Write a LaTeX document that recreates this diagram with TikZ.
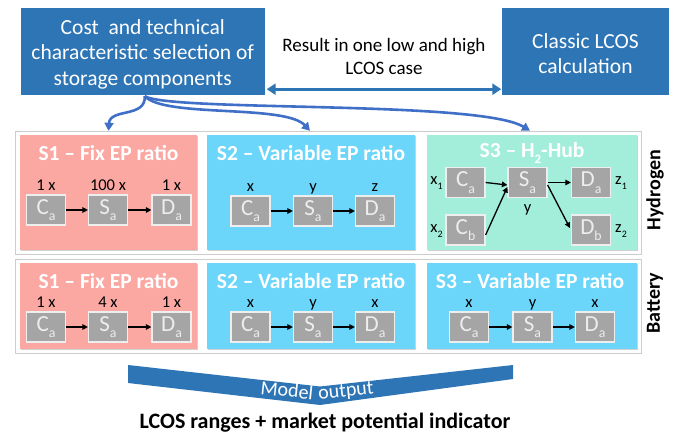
\documentclass[tikz,border=0pt]{standalone}
\usepackage{fontspec}
\setmainfont{Carlito}
\usetikzlibrary{arrows.meta,shadows,calc}

\definecolor{deepblue}{HTML}{2E75B6}
\definecolor{linkblue}{HTML}{3F6FC6}
\definecolor{salmon}{HTML}{FBA7A2}
\definecolor{sky}{HTML}{6CD5FA}
\definecolor{mint}{HTML}{A2EEDB}
\definecolor{compgrey}{HTML}{A5A5A5}
\definecolor{compedge}{HTML}{EEEEEE}
\definecolor{framegrey}{HTML}{CDCDCD}

% lowered, reduced index letter as used in the component names
\newcommand{\idx}[1]{\raisebox{-0.28em}{\scalebox{0.6}{#1}}}

\tikzset{
  topbox/.style={fill=deepblue, inner sep=0pt},
  boxtext/.style={text=white, align=center, inner sep=0pt,
    font=\fontsize{21.5}{25.5}\selectfont},
  frame/.style={draw=framegrey, fill=white, line width=0.8pt, inner sep=0pt,
    drop shadow={shadow xshift=0.6pt, shadow yshift=-1.4pt, opacity=0.45, fill=black!55}},
  panel/.style={inner sep=0pt,
    drop shadow={shadow xshift=0.8pt, shadow yshift=-1.2pt, opacity=0.3, fill=black!60}},
  ptitle/.style={text=white, inner sep=0pt, font=\fontsize{21.5}{21.5}\selectfont\bfseries},
  comp/.style={draw=compedge, line width=1.2pt, fill=compgrey, text=white!93!black,
    minimum width=39pt, minimum height=30pt, inner sep=0pt,
    font=\fontsize{23}{23}\selectfont},
  lbl/.style={anchor=base, inner sep=0pt, font=\fontsize{16.5}{16.5}\selectfont},
  flow/.style={-{Triangle[length=5.5pt,width=5.5pt]}, line width=1.3pt, black},
  linkarrow/.style={-{Triangle[length=8pt,width=9pt]}, line width=2.6pt, linkblue},
  dblarrow/.style={{Triangle[length=9pt,width=11pt]}-{Triangle[length=9pt,width=11pt]},
    line width=3pt, deepblue},
  rowname/.style={rotate=90, inner sep=0pt, font=\fontsize{20}{20}\selectfont\bfseries},
  chevtext/.style={text=white, inner sep=0pt, font=\fontsize{20}{20}\selectfont},
}

\begin{document}
\begin{tikzpicture}[x=1pt, y=-1pt]
\useasboundingbox (0,0) rectangle (681,437);

% ---------- top row ----------
\node[topbox, minimum width=244.5pt, minimum height=87pt] (sel) at (142.75,51.5) {};
\node[boxtext] (seltext) at ($(sel.center)+(0,2.5)$)
  {Cost\ \ and technical\\characteristic selection of\\storage components};
\node[topbox, minimum width=167pt, minimum height=87pt] (classic) at (585.5,51.5) {};
\node[boxtext] (classictext) at ($(classic.center)+(0,2)$) {Classic LCOS\\calculation};
\node[align=center, inner sep=0pt, font=\fontsize{19}{23}\selectfont] (result) at (384,56)
  {Result in one low and high\\LCOS case};
\draw[dblarrow] ($(sel.south east)+(1.5,-6)$) -- ($(classic.south west)+(-0.5,-6)$);

% ---------- scenario frames ----------
\node[frame, minimum width=626pt, minimum height=123pt] (hframe) at (328,192.5) {};
\node[frame, minimum width=626pt, minimum height=94pt] (bframe) at (328,306) {};

% hydrogen row panels
\node[panel, fill=salmon, minimum width=177pt, minimum height=115pt] (h1) at (108.5,192.5) {};
\node[panel, fill=sky,    minimum width=208pt, minimum height=115pt] (h2) at (311,192.5) {};
\node[panel, fill=mint,   minimum width=210pt, minimum height=115pt] (h3) at (532,192.5) {};
% battery row panels
\node[panel, fill=salmon, minimum width=177pt, minimum height=86pt] (b1) at (108.5,306) {};
\node[panel, fill=sky,    minimum width=208pt, minimum height=86pt] (b2) at (311,306) {};
\node[panel, fill=sky,    minimum width=210pt, minimum height=86pt] (b3) at (532,306) {};

% panel titles
\node[ptitle] (h1t) at (108.5,153) {S1 -- Fix EP ratio};
\node[ptitle] (h2t) at (311,153) {S2 -- Variable EP ratio};
\node[ptitle] (h3t) at (532,153) {S3 -- H\idx{2}-Hub};
\node[ptitle] (b1t) at (108.5,281) {S1 -- Fix EP ratio};
\node[ptitle] (b2t) at (311,281) {S2 -- Variable EP ratio};
\node[ptitle] (b3t) at (530,281) {S3 -- Variable EP ratio};

% row names
\node[rowname] (hyd) at (655,190) {Hydrogen};
\node[rowname] (bat) at (655,303) {Battery};

% ---------- links from the selection box ----------
\coordinate (fork) at ($(sel.south)+(2,1)$);
\draw[linkarrow] (fork) .. controls (146,118) and (110,108) .. ($(h1.north)+(0,-4)$);
\draw[linkarrow] (fork) .. controls (165,118) and (285,104) .. ($(h2.north)+(-1,-4)$);
\draw[linkarrow] (fork) .. controls (172,112) and (480,100) .. ($(h3.north)+(-2,-4)$);

% ---------- H S1 ----------
\node[comp] (ca1) at (46,210) {C\idx{a}};
\node[comp] (sa1) at (108,210) {S\idx{a}};
\node[comp] (da1) at (171.5,210) {D\idx{a}};
\draw[flow] (ca1) -- (sa1);
\draw[flow] (sa1) -- (da1);
\node[lbl] (lca1) at ($(ca1.north)+(0,-4)$) {1 x};
\node[lbl] (lsa1) at ($(sa1.north)+(0,-4)$) {100 x};
\node[lbl] (lda1) at ($(da1.north)+(0,-4)$) {1 x};

% ---------- H S2 ----------
\node[comp] (ca2) at (250.5,211) {C\idx{a}};
\node[comp] (sa2) at (313,211) {S\idx{a}};
\node[comp] (da2) at (375,211) {D\idx{a}};
\draw[flow] (ca2) -- (sa2);
\draw[flow] (sa2) -- (da2);
\node[lbl] (lca2) at ($(ca2.north)+(0,-4)$) {x};
\node[lbl] (lsa2) at ($(sa2.north)+(0,-4)$) {y};
\node[lbl] (lda2) at ($(da2.north)+(0,-4)$) {z};

% ---------- H S3 (hub) ----------
\node[comp] (ca3) at (465.5,182.5) {C\idx{a}};
\node[comp] (cb3) at (465.5,230) {C\idx{b}};
\node[comp] (sa3) at (527.5,182.5) {S\idx{a}};
\node[comp] (da3) at (591,182.5) {D\idx{a}};
\node[comp] (db3) at (591,230) {D\idx{b}};
\draw[flow] (ca3.east) -- ($(sa3.west)+(0,2.5)$);
\draw[flow] ($(cb3.east)+(0,5)$) -- ($(sa3.west)+(0,4.5)$);
\draw[flow] (sa3.east) -- (da3.west);
\draw[flow] ($(sa3.east)+(0,2.5)$) -- ($(db3.west)+(-1,-2)$);
\node[lbl, anchor=center] (lca3) at (436.5,183) {x\idx{1}};
\node[lbl, anchor=center] (lcb3) at (436.5,231) {x\idx{2}};
\node[lbl, anchor=center] (lda3) at (621,183) {z\idx{1}};
\node[lbl, anchor=center] (ldb3) at (621,231) {z\idx{2}};
\node[lbl] (lsa3) at ($(sa3.south)+(0,14)$) {y};

% ---------- B S1 ----------
\node[comp] (ca4) at (46,327) {C\idx{a}};
\node[comp] (sa4) at (108,327) {S\idx{a}};
\node[comp] (da4) at (171.5,327) {D\idx{a}};
\draw[flow] (ca4) -- (sa4);
\draw[flow] (sa4) -- (da4);
\node[lbl] (lca4) at ($(ca4.north)+(0,-4)$) {1 x};
\node[lbl] (lsa4) at ($(sa4.north)+(0,-4)$) {4 x};
\node[lbl] (lda4) at ($(da4.north)+(0,-4)$) {1 x};

% ---------- B S2 ----------
\node[comp] (ca5) at (250.5,327) {C\idx{a}};
\node[comp] (sa5) at (313,327) {S\idx{a}};
\node[comp] (da5) at (375,327) {D\idx{a}};
\draw[flow] (ca5) -- (sa5);
\draw[flow] (sa5) -- (da5);
\node[lbl] (lca5) at ($(ca5.north)+(0,-4)$) {x};
\node[lbl] (lsa5) at ($(sa5.north)+(0,-4)$) {y};
\node[lbl] (lda5) at ($(da5.north)+(0,-4)$) {x};

% ---------- B S3 ----------
\node[comp] (ca6) at (469,327) {C\idx{a}};
\node[comp] (sa6) at (532.5,327) {S\idx{a}};
\node[comp] (da6) at (595,327) {D\idx{a}};
\draw[flow] (ca6) -- (sa6);
\draw[flow] (sa6) -- (da6);
\node[lbl] (lca6) at ($(ca6.north)+(0,-4)$) {x};
\node[lbl] (lsa6) at ($(sa6.north)+(0,-4)$) {y};
\node[lbl] (lda6) at ($(da6.north)+(0,-4)$) {x};

% ---------- model output chevron ----------
\fill[deepblue] (128,365) -- (320,386.5) -- (513,365) -- (513,379) -- (320,405) -- (128,383) -- cycle;
\node[chevtext, rotate=-6] (mdl) at (287,390) {Model};
\node[chevtext, rotate=6] (outp) at (346,392) {output};

\node[font=\fontsize{22}{22}\selectfont\bfseries, inner sep=0pt] (summary) at (325,423)
  {LCOS ranges + market potential indicator};
\end{tikzpicture}
\end{document}
